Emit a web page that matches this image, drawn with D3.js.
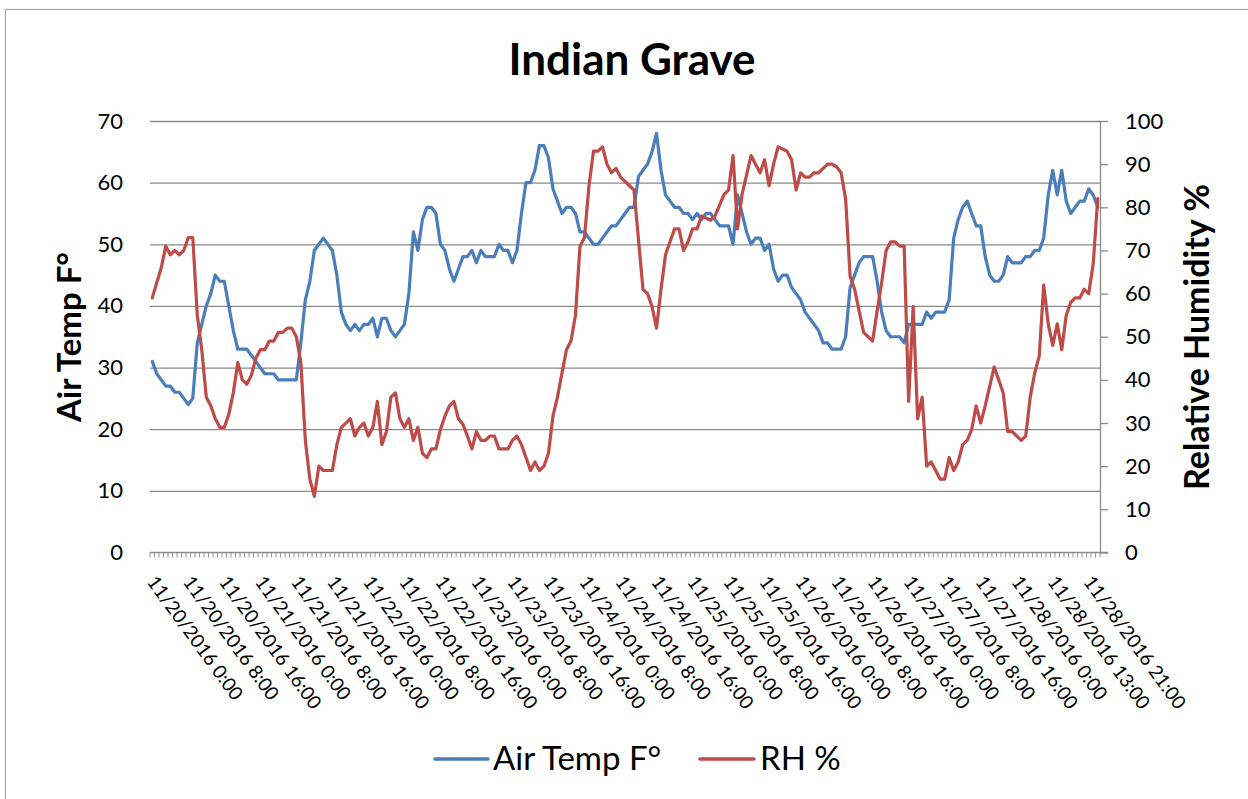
<!DOCTYPE html>
<html><head><meta charset="utf-8">
<script src="https://cdn.jsdelivr.net/npm/d3@7"></script>
<style>
html,body{margin:0;padding:0;background:#fff;}
svg{display:block;font-family:Lato, "Open Sans", sans-serif;}
</style></head>
<body>
<svg id="chart" width="1248" height="799"></svg>
<script>
// ---- data ----
const title = "Indian Grave";
const leftAxisTitle = "Air Temp F°";
const rightAxisTitle = "Relative Humidity %";
const seriesNames = ["Air Temp F°", "RH %"];
const xTickLabels = [
  "11/20/2016 0:00","11/20/2016 8:00","11/20/2016 16:00",
  "11/21/2016 0:00","11/21/2016 8:00","11/21/2016 16:00",
  "11/22/2016 0:00","11/22/2016 8:00","11/22/2016 16:00",
  "11/23/2016 0:00","11/23/2016 8:00","11/23/2016 16:00",
  "11/24/2016 0:00","11/24/2016 8:00","11/24/2016 16:00",
  "11/25/2016 0:00","11/25/2016 8:00","11/25/2016 16:00",
  "11/26/2016 0:00","11/26/2016 8:00","11/26/2016 16:00",
  "11/27/2016 0:00","11/27/2016 8:00","11/27/2016 16:00",
  "11/28/2016 0:00","11/28/2016 13:00","11/28/2016 21:00"
];
const labelEvery = 8;
const leftTicks = [0,10,20,30,40,50,60,70];
const rightTicks = [0,10,20,30,40,50,60,70,80,90,100];
const airTemp = [
  31,29,28,27,27,26,26,25,24,25,
  34,37,40,42,45,44,44,40,36,33,
  33,33,32,31,30,29,29,29,28,28,
  28,28,28,34,41,44,49,50,51,50,
  49,45,39,37,36,37,36,37,37,38,
  35,38,38,36,35,36,37,42,52,49,
  54,56,56,55,50,49,46,44,46,48,
  48,49,47,49,48,48,48,50,49,49,
  47,49,55,60,60,62,66,66,64,59,
  57,55,56,56,55,52,52,51,50,50,
  51,52,53,53,54,55,56,56,61,62,
  63,65,68,62,58,57,56,56,55,55,
  54,55,54,55,55,54,53,53,53,50,
  58,55,52,50,51,51,49,50,46,44,
  45,45,43,42,41,39,38,37,36,34,
  34,33,33,33,35,43,45,47,48,48,
  48,44,39,36,35,35,35,34,37,37,
  37,37,39,38,39,39,39,41,51,54,
  56,57,55,53,53,48,45,44,44,45,
  48,47,47,47,48,48,49,49,51,58,
  62,58,62,57,55,56,57,57,59,58,
  56
];
const rh = [
  59,62.5,66,71,69,70,69,70,73,73,
  55,47,36,34,31,29,29,32,37,44,
  40,39,41,45,47,47,49,49,51,51,
  52,52,50,44,26,17,13,20,19,19,
  19,25,29,30,31,27,29,30,27,29,
  35,25,28,36,37,31,29,31,26,29,
  23,22,24,24,28.5,31.6,34,35,31,29.7,
  27,24,28,26,26,27,27,24,24,24,
  26,27,25,22,19,21,19,20,23,31.6,
  36,41.6,47,49,55,71,73,85,93,93,
  94,90,88,89,87,86,85,84,72.5,61,
  60,57,52,61,69,72,75,75,70,72,
  75,75,78,77.5,77,78,80.5,83,84,92,
  75,83,87.5,92,90,88,91,85,90,94,
  93.5,93,91,84,88,87,87,88,88,89,
  90,90,89.4,88,82,64,61,56,51,50,
  49,56,62.5,70,72,72,71,71,35,57,
  31,36,20,21,19,17,17,22,19,21,
  25,26,28.5,34,30,34,38.5,43,40,37,
  28,28,27,26,27,36,41.6,45.5,62,53,
  48,53,47,55,58,59,59,61,60,67,
  82
];

// ---- layout ----
const plot = {left:150, right:1100, top:121, bottom:552.5};
const gridColor = "#8a8a8a";
const blue = "#4A7EBB", red = "#BE4B48";

const svg = d3.select("#chart");

// chart frame
svg.append("rect").attr("x",5.5).attr("y",9.5).attr("width",1400).attr("height",1000)
  .attr("fill","none").attr("stroke","#a6a6a6").attr("stroke-width",1.2);

const idx = d3.range(airTemp.length);
const x = d3.scaleBand().domain(idx).range([plot.left, plot.right]).padding(0);
const cx = i => x(i) + x.bandwidth()/2;
const yL = d3.scaleLinear().domain([0,70]).range([plot.bottom, plot.top]);
const yR = d3.scaleLinear().domain([0,100]).range([plot.bottom, plot.top]);

// gridlines (left axis)
const grid = svg.append("g").attr("transform",`translate(${plot.left},0)`)
  .call(d3.axisLeft(yL).tickValues(leftTicks.filter(v=>v>0)).tickSize(-(plot.right-plot.left)).tickFormat(""));
grid.select(".domain").remove();
grid.selectAll("line").attr("stroke",gridColor).attr("stroke-width",1.3);

// left axis labels
const la = svg.append("g").attr("transform",`translate(123,0)`)
  .call(d3.axisLeft(yL).tickValues(leftTicks).tickSize(0).tickPadding(0));
la.select(".domain").remove();
la.selectAll("text").attr("font-size",22).attr("fill","#000").attr("font-family","Lato");

// right axis
const ra = svg.append("g").attr("transform",`translate(${plot.right},0)`)
  .call(d3.axisRight(yR).tickValues(rightTicks).tickSize(8).tickPadding(17).tickSizeOuter(0));
ra.select(".domain").attr("stroke",gridColor).attr("stroke-width",1.3);
ra.selectAll("line").attr("stroke",gridColor).attr("stroke-width",1.3);
ra.selectAll("text").attr("font-size",22).attr("fill","#000").attr("font-family","Lato");

// x axis line + category ticks
svg.append("line").attr("x1",plot.left).attr("x2",plot.right+8)
  .attr("y1",plot.bottom).attr("y2",plot.bottom).attr("stroke",gridColor).attr("stroke-width",1.3);
svg.append("g").selectAll("line").data(idx.concat([idx.length])).join("line")
  .attr("x1",i => i < idx.length ? x(i) : plot.right)
  .attr("x2",i => i < idx.length ? x(i) : plot.right)
  .attr("y1",plot.bottom).attr("y2",plot.bottom+5)
  .attr("stroke",gridColor).attr("stroke-width",0.9);

// x labels
const labelIdx = xTickLabels.map((_,k)=>k*labelEvery);
svg.append("g").selectAll("text").data(labelIdx).join("text")
  .attr("transform",i => `translate(${cx(i)-6},582) rotate(54)`)
  .attr("font-size",19).attr("fill","#000")
  .text((i,k) => xTickLabels[k]);

// lines
const lineT = d3.line().x((d,i)=>cx(i)).y(d=>yL(d));
const lineR = d3.line().x((d,i)=>cx(i)).y(d=>yR(d));
svg.append("path").datum(airTemp).attr("d",lineT).attr("fill","none")
  .attr("stroke",blue).attr("stroke-width",3.2).attr("stroke-linejoin","round").attr("stroke-linecap","round");
svg.append("path").datum(rh).attr("d",lineR).attr("fill","none")
  .attr("stroke",red).attr("stroke-width",3.2).attr("stroke-linejoin","round").attr("stroke-linecap","round");

// title
svg.append("text").attr("x",632).attr("y",75).attr("text-anchor","middle")
  .attr("font-size",44).attr("font-weight","bold").text(title);

// axis titles
svg.append("text").attr("transform","translate(81,337) rotate(-90)").attr("text-anchor","middle")
  .attr("font-size",33).attr("font-weight","bold").text(leftAxisTitle);
svg.append("text").attr("transform","translate(1209,337) rotate(-90)").attr("text-anchor","middle")
  .attr("font-size",34).attr("font-weight","bold").text(rightAxisTitle);

// legend
const legend = [
  {name:seriesNames[0], color:blue, x1:435, x2:488, tx:493},
  {name:seriesNames[1], color:red, x1:700, x2:754, tx:760}
];
const lg = svg.append("g");
lg.selectAll("line").data(legend).join("line")
  .attr("x1",d=>d.x1).attr("x2",d=>d.x2).attr("y1",759).attr("y2",759)
  .attr("stroke",d=>d.color).attr("stroke-width",3.5).attr("stroke-linecap","round");
lg.selectAll("text").data(legend).join("text")
  .attr("x",d=>d.tx).attr("y",770).attr("font-size",33).attr("fill","#000").text(d=>d.name);
</script>
</body></html>
